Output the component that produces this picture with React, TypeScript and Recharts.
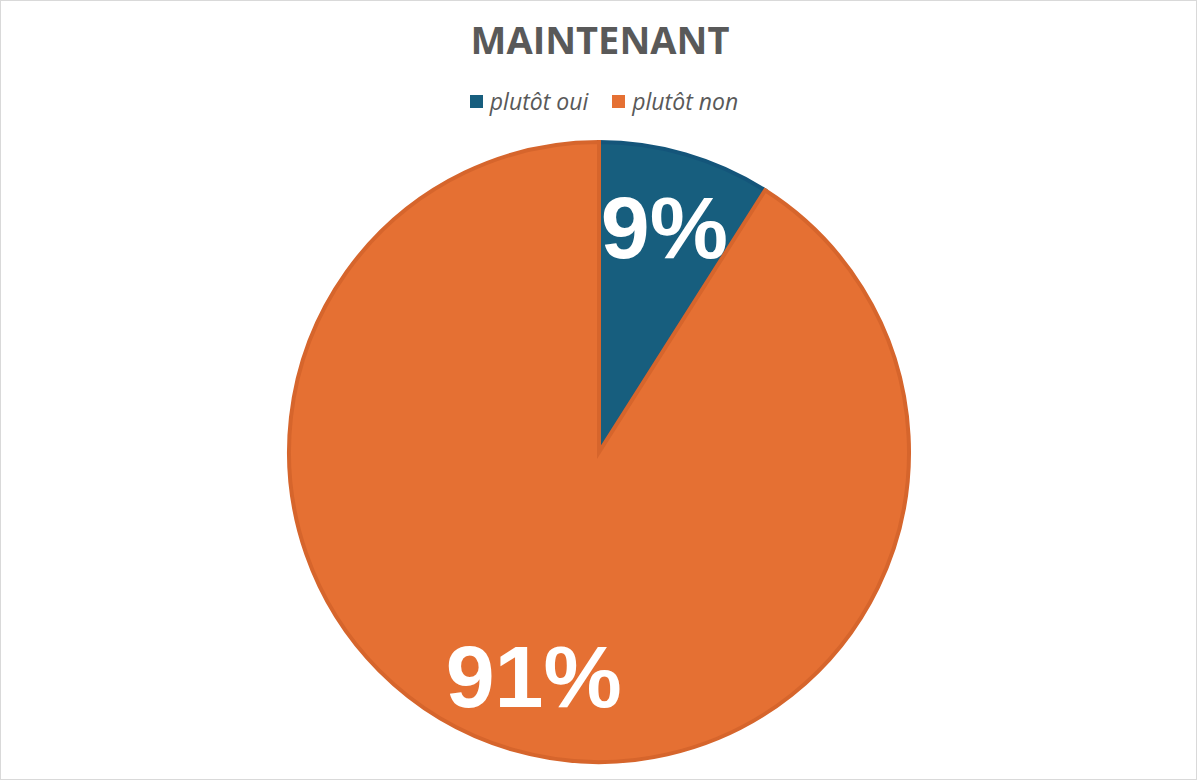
import React from 'react';
import { PieChart, Pie, Cell, Legend } from 'recharts';

const title = 'MAINTENANT';
const categories = ['plutôt oui', 'plutôt non'];
const values = [9, 91];
const fillColors = ['#175E7E', '#E57033'];
const strokeColors = ['#14557A', '#D6652C'];

const data = categories.map((name, i) => ({ name, value: values[i] }));

const RAD = Math.PI / 180;

const renderLabel = (props: any) => {
  const { cx, cy, midAngle, outerRadius, percent } = props;
  const r = outerRadius * 0.755;
  const x = cx + r * Math.cos(-midAngle * RAD);
  const y = cy + r * Math.sin(-midAngle * RAD);
  return (
    <text
      x={x}
      y={y}
      fill="#FFFFFF"
      textAnchor="middle"
      dominantBaseline="central"
      fontFamily="'Liberation Sans', Arial, sans-serif"
      fontWeight="bold"
      fontSize={88}
    >
      {`${Math.round(percent * 100)}%`}
    </text>
  );
};

const renderLegend = () => (
  <div
    style={{
      display: 'flex',
      justifyContent: 'center',
      alignItems: 'center',
      fontFamily: "'Open Sans', sans-serif",
      fontStyle: 'italic',
      fontSize: 23,
      lineHeight: '28px',
      height: 28,
      color: '#595959',
      paddingLeft: 8,
    }}
  >
    {categories.map((c, i) => (
      <div key={c} style={{ display: 'flex', alignItems: 'center', marginRight: i === 0 ? 24 : 0 }}>
        <span style={{ display: 'inline-block', width: 13, height: 13, background: fillColors[i], marginRight: 7 }} />
        <span>{c}</span>
      </div>
    ))}
  </div>
);

export default function App() {
  return (
    <div style={{ position: 'fixed', left: 0, top: 0, width: 1200, height: 782, background: '#fff' }}>
      <div
        style={{
          position: 'absolute',
          left: 0,
          top: 0,
          width: 1197,
          height: 780,
          border: '1px solid #D9D9D9',
          boxSizing: 'border-box',
        }}
      />
      <div
        style={{
          position: 'absolute',
          top: 13,
          left: 0,
          width: 1200,
          textAlign: 'center',
          fontFamily: "'Open Sans', sans-serif",
          fontWeight: 700,
          fontSize: 38,
          color: '#595959',
          lineHeight: '52px',
        }}
      >
        {title}
      </div>
      <PieChart width={1200} height={782} margin={{ top: 0, right: 0, bottom: 0, left: 0 }}>
        <Legend
          content={renderLegend}
          verticalAlign="top"
          align="center"
          wrapperStyle={{ top: 87, left: 0, width: 1200 }}
        />
        <Pie
          data={data}
          dataKey="value"
          nameKey="name"
          cx={599}
          cy={424}
          outerRadius={310}
          startAngle={90}
          endAngle={-270}
          strokeWidth={4}
          labelLine={false}
          label={renderLabel}
          isAnimationActive={false}
        >
          {data.map((d, i) => (
            <Cell key={d.name} fill={fillColors[i]} stroke={strokeColors[i]} />
          ))}
        </Pie>
      </PieChart>
    </div>
  );
}
